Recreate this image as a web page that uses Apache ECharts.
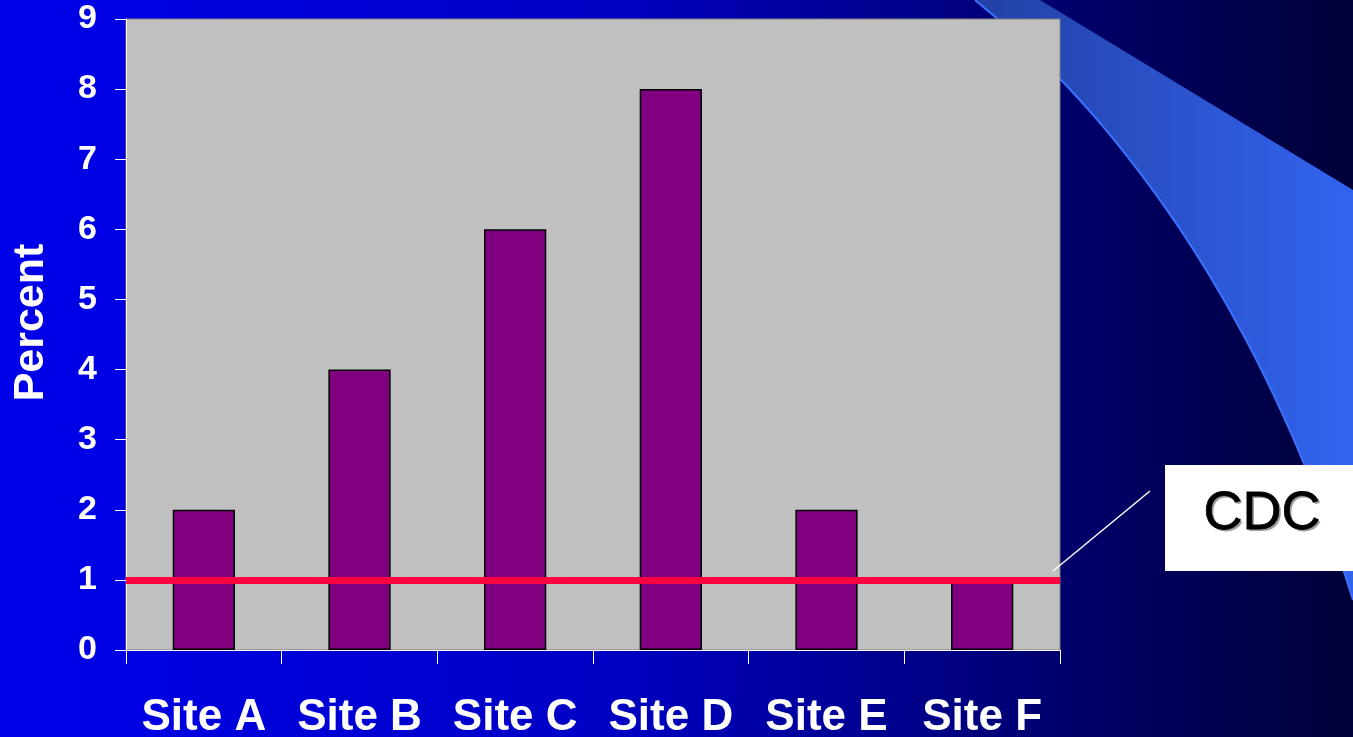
<!DOCTYPE html>
<html>
<head>
<meta charset="utf-8">
<script src="https://cdn.jsdelivr.net/npm/echarts@6/dist/echarts.min.js"></script>
<style>
html, body { margin: 0; padding: 0; }
#chart { width: 1353px; height: 737px; }
</style>
</head>
<body>
<div id="chart"></div>
<script>
// data
var sites = ['Site A', 'Site B', 'Site C', 'Site D', 'Site E', 'Site F'];
var percent = [2, 4, 6, 8, 2, 1];
var cdcLevel = 1;
var yTicks = [0, 1, 2, 3, 4, 5, 6, 7, 8, 9];

var FONT = '"Liberation Sans", Arial, sans-serif';
var myChart = echarts.init(document.getElementById('chart'));

// lower edge of the background swoosh (decoration only)
function curvePts() {
  var p0 = [975, 0], p1 = [1110, 110], p2 = [1260, 300], p3 = [1353, 600];
  var pts = [];
  for (var i = 0; i <= 40; i++) {
    var t = i / 40, u = 1 - t;
    pts.push([
      u*u*u*p0[0] + 3*u*u*t*p1[0] + 3*u*t*t*p2[0] + t*t*t*p3[0],
      u*u*u*p0[1] + 3*u*u*t*p1[1] + 3*u*t*t*p2[1] + t*t*t*p3[1]
    ]);
  }
  return pts;
}
var edge = curvePts();
var swoosh = [[1040, 0], [1353, 190]].concat(edge.slice().reverse());

myChart.setOption({
  animation: false,
  backgroundColor: new echarts.graphic.LinearGradient(0, 0, 1, 0, [
    { offset: 0, color: '#0000ea' },
    { offset: 0.45, color: '#0000c4' },
    { offset: 0.78, color: '#00006e' },
    { offset: 1, color: '#000038' }
  ]),
  graphic: [
    {
      type: 'polygon',
      z: -10,
      shape: { points: swoosh },
      style: {
        fill: new echarts.graphic.LinearGradient(0, 0, 1, 0, [
          { offset: 0, color: '#2240a4' }, { offset: 1, color: '#3264f0' }
        ])
      }
    },
    {
      type: 'polyline',
      z: -9,
      shape: { points: edge },
      style: { fill: null, stroke: '#3a72ff', lineWidth: 2 }
    },
    {
      type: 'line',
      z: 20,
      shape: { x1: 1053, y1: 571, x2: 1150, y2: 491 },
      style: { stroke: '#ffffff', lineWidth: 1.5 }
    },
    {
      type: 'rect',
      z: 20,
      shape: { x: 1165, y: 465, width: 200, height: 106 },
      style: { fill: '#ffffff' }
    },
    {
      // drop shadow of the callout text
      type: 'text',
      z: 21,
      x: 1264,
      y: 516,
      style: {
        text: 'CDC',
        font: '54px ' + FONT,
        fill: '#a0a0a0',
        align: 'center',
        verticalAlign: 'middle'
      }
    },
    {
      type: 'text',
      z: 22,
      x: 1262,
      y: 514,
      style: {
        text: 'CDC',
        font: '54px ' + FONT,
        fill: '#000000',
        stroke: '#000000',
        lineWidth: 0.8,
        align: 'center',
        verticalAlign: 'middle'
      }
    }
  ],
  grid: {
    left: 126,
    right: 293,
    top: 19,
    bottom: 87,
    outerBoundsMode: 'none',
    containLabel: false,
    show: true,
    backgroundColor: '#c0c0c0',
    borderColor: '#808080',
    borderWidth: 1
  },
  xAxis: {
    type: 'category',
    data: sites,
    axisLine: { lineStyle: { color: '#ffffff', width: 1 } },
    axisTick: { show: true, interval: 0, length: 14, lineStyle: { color: '#ffffff' } },
    axisLabel: {
      interval: 0,
      hideOverlap: false,
      color: '#ffffff',
      fontFamily: FONT,
      fontWeight: 'bold',
      fontSize: 44,
      margin: 46
    }
  },
  yAxis: {
    type: 'value',
    min: yTicks[0],
    max: yTicks[yTicks.length - 1],
    interval: 1,
    name: 'Percent',
    nameLocation: 'middle',
    nameRotate: 90,
    nameGap: 73,
    nameTextStyle: {
      color: '#ffffff', fontFamily: FONT, fontWeight: 'bold', fontSize: 43,
      padding: [0, 0, 0, 24]
    },
    axisLine: { show: true, lineStyle: { color: '#ffffff', width: 1 } },
    axisTick: { show: true, length: 11, lineStyle: { color: '#ffffff' } },
    splitLine: { show: false },
    axisLabel: {
      color: '#ffffff',
      fontFamily: FONT,
      fontWeight: 'bold',
      fontSize: 34,
      margin: 29
    }
  },
  series: [{
    name: 'Percent',
    type: 'bar',
    data: percent,
    barWidth: '40%',
    itemStyle: { color: '#800080', borderColor: '#000000', borderWidth: 1.5 },
    markLine: {
      silent: true,
      symbol: 'none',
      label: { show: false },
      lineStyle: { color: '#ff0040', width: 7, type: 'solid' },
      data: [{ yAxis: cdcLevel }]
    }
  }]
});
</script>
</body>
</html>
